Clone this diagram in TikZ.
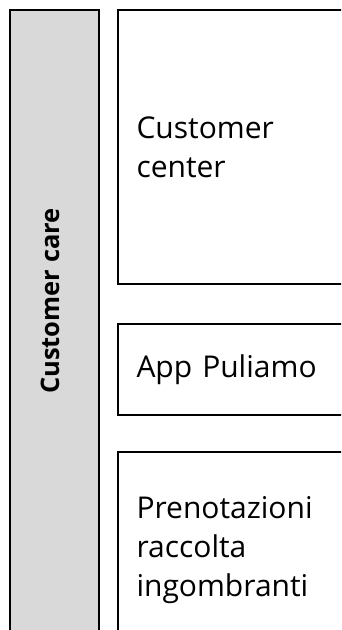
\documentclass[tikz,border=0pt]{standalone}
\usepackage{fontspec}
\setmainfont{Open Sans}
\usetikzlibrary{positioning}

\tikzset{
  lane/.style={draw=black, line width=2pt, fill=black!15, anchor=north west,
    minimum width=89pt, minimum height=660pt, inner sep=0pt},
  lanetext/.style={rotate=90, font=\fontsize{25.5}{30}\selectfont\bfseries},
  item/.style={draw=black, line width=2pt, anchor=north west, align=left,
    text width=220pt, inner xsep=19pt, inner ysep=0pt, minimum width=258pt,
    font=\fontsize{30}{39}\selectfont},
}

\begin{document}
\begin{tikzpicture}[x=1pt, y=1pt]
\useasboundingbox (0,0) rectangle (341,630);
\clip (0,0) rectangle (341,630);
% swimlane on the left
\node[lane] (care) at (9,621) {};
\node[lanetext] (caretxt) at (50,329) {Customer care};
% the three boxes
\node[item, minimum height=274pt] (center) at (116.5,621) {Customer\\center};
\node[item, minimum height=91pt, below=38pt of center.south west, anchor=north west] (app) {App Puliamo};
\node[item, minimum height=196pt, below=35pt of app.south west, anchor=north west] (ingombranti) {Prenotazioni\\raccolta\\ingombranti};
\end{tikzpicture}
\end{document}
